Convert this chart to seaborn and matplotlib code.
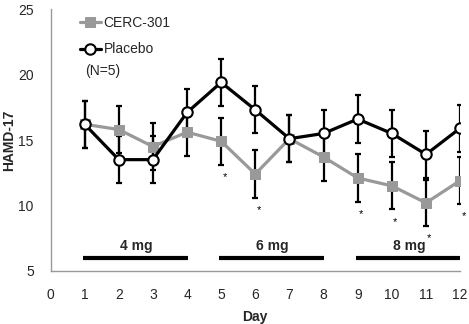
import matplotlib
matplotlib.use("Agg")
import matplotlib.pyplot as plt
import seaborn as sns
import pandas as pd

days = [1, 2, 3, 4, 5, 6, 7, 8, 9, 10, 11, 12]
placebo = [16.2, 13.5, 13.5, 17.1, 19.4, 17.3, 15.1, 15.5, 16.6, 15.5, 13.9, 15.9]
placebo_err = [1.8, 1.8, 1.8, 1.8, 1.8, 1.8, 1.8, 1.8, 1.8, 1.8, 1.8, 1.8]
cerc = [16.2, 15.8, 14.5, 15.6, 14.9, 12.4, 15.1, 13.7, 12.1, 11.5, 10.2, 11.9]
cerc_err = [1.8, 1.8, 1.8, 1.8, 1.8, 1.8, 1.8, 1.8, 1.8, 1.8, 1.75, 1.8]
star_days = [5, 6, 9, 10, 11, 12]
doses = ["4 mg", "6 mg", "8 mg"]
dose_start = [1, 5, 9]
dose_end = [4, 8, 12]
dose_level = 6

sns.set_theme(style="white")
plt.rcParams["font.family"] = ["Liberation Sans", "DejaVu Sans"]

fig = plt.figure(figsize=(4.69, 3.24), dpi=100)
ax = fig.add_axes([0.1077, 0.1636, 0.8733, 0.8086])

gray = "#999999"
df = pd.DataFrame({"Day": days * 2,
                   "HAMD": cerc + placebo,
                   "Group": ["CERC-301"] * 12 + ["Placebo"] * 12})

ax.errorbar(days, cerc, yerr=cerc_err, fmt="none", ecolor="black",
            elinewidth=1.6, capsize=2.0, capthick=1.6, zorder=2)
ax.errorbar(days, placebo, yerr=placebo_err, fmt="none", ecolor="black",
            elinewidth=1.6, capsize=2.0, capthick=1.6, zorder=2)

sns.lineplot(data=df[df.Group == "CERC-301"], x="Day", y="HAMD", ax=ax,
             color=gray, lw=2.3, marker="s", markersize=6.5,
             markeredgecolor=gray, markerfacecolor=gray, label="CERC-301", zorder=3)
sns.lineplot(data=df[df.Group == "Placebo"], x="Day", y="HAMD", ax=ax,
             color="black", lw=2.3, marker="o", markersize=7.5,
             markeredgecolor="black", markeredgewidth=1.5,
             markerfacecolor="white", label="Placebo", zorder=4)

for d in star_days:
    i = days.index(d)
    ax.text(d + 0.1, cerc[i] - cerc_err[i] - 0.55, "*", ha="center", va="top",
            fontsize=8, color="black")

for lab, s, e in zip(doses, dose_start, dose_end):
    ax.plot([s - 0.05, e + 0.02], [dose_level, dose_level], color="black",
            lw=3, solid_capstyle="butt", zorder=2)
    ax.text((s + e) / 2, dose_level + 0.35, lab, ha="center", va="bottom",
            fontsize=10, fontweight="bold")

ax.set_xlim(0, 12)
ax.set_ylim(5, 25)
ax.set_xticks(range(0, 13))
ax.set_yticks([5, 10, 15, 20, 25])
ax.tick_params(axis="both", direction="out", length=4, width=1, color=gray,
               labelsize=10, pad=8)
for sp in ["top", "right"]:
    ax.spines[sp].set_visible(False)
for sp in ["left", "bottom"]:
    ax.spines[sp].set_color(gray)
    ax.spines[sp].set_linewidth(1)
ax.set_xlabel("Day", fontsize=10, fontweight="bold")
ax.set_ylabel("HAMD-17", fontsize=10, fontweight="bold")
ax.yaxis.set_label_coords(-0.085, 0.5)
ax.xaxis.set_label_coords(0.5, -0.15)

leg = ax.legend(loc="upper left", bbox_to_anchor=(0.055, 1.0), frameon=False,
                fontsize=10, handlelength=1.5, handletextpad=0.2,
                labelspacing=0.9, borderaxespad=0.1)
ax.text(0.085, 0.762, "(N=5)", transform=ax.transAxes, fontsize=10,
        ha="left", va="center")

fig.savefig("out.png", dpi=100)
